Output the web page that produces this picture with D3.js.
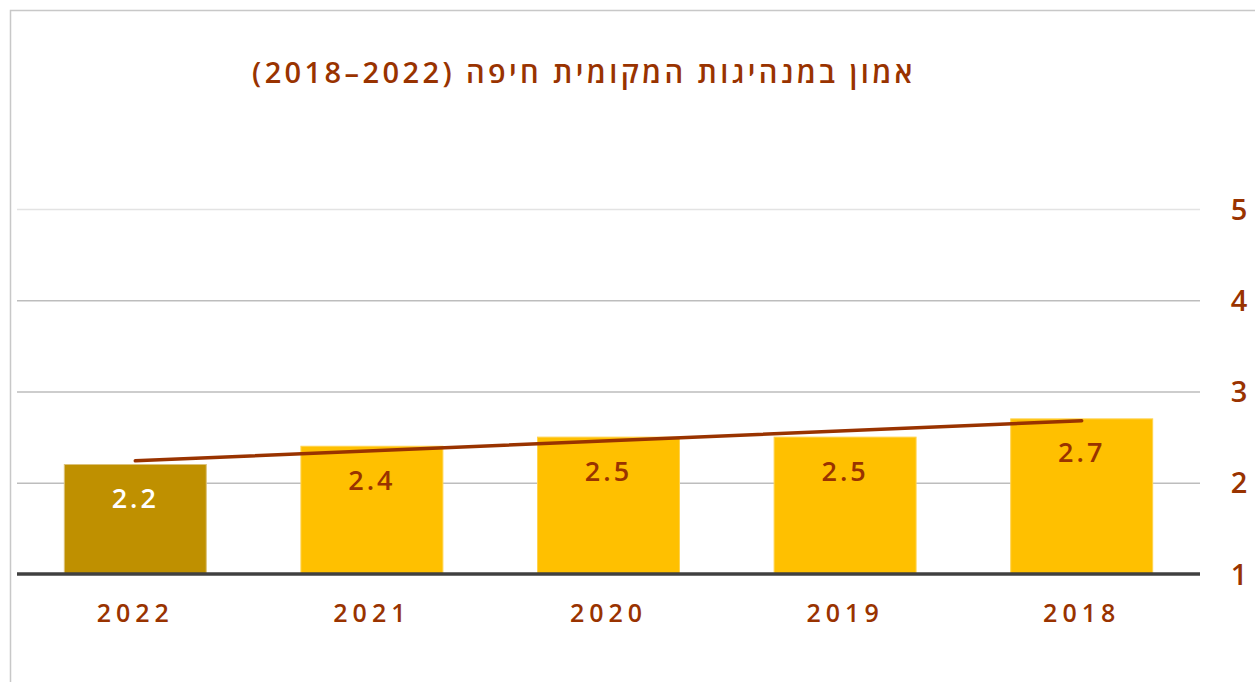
<!DOCTYPE html>
<html lang="he">
<head>
<meta charset="utf-8">
<script src="https://cdn.jsdelivr.net/npm/d3@7"></script>
<style>
  html, body { margin: 0; padding: 0; background: #fff; }
  svg { display: block; font-family: 'Open Sans', 'Noto Sans', sans-serif; }
</style>
</head>
<body>
<svg width="1255" height="682"></svg>
<script>
const years = ['2022', '2021', '2020', '2019', '2018'];
const values = [2.2, 2.4, 2.5, 2.5, 2.7];
const yTicks = [1, 2, 3, 4, 5];
// years range is isolated as LTR so it isn't flipped by the bidi algorithm
const title = 'אמון במנהיגות המקומית חיפה (\u20662018–2022\u2069)';

const svg = d3.select('svg');
const width = +svg.attr('width');
const height = +svg.attr('height');

const brown = '#993300';
const margin = { top: 209, right: 55, bottom: 108, left: 17 };
const innerWidth = width - margin.left - margin.right;
const innerHeight = height - margin.top - margin.bottom;

const xScale = d3.scaleBand().domain(years).range([0, innerWidth])
    .paddingInner(0.4).paddingOuter(0.2);
const yScale = d3.scaleLinear().domain([1, 5]).range([innerHeight, 0]);

// frame
svg.append('path')
    .attr('d', `M10.5,${height} V10.5 H${width}`)
    .attr('fill', 'none')
    .attr('stroke', '#c8c8c8')
    .attr('stroke-width', 1.5);

svg.append('text')
    .attr('x', 584)
    .attr('y', 83)
    .attr('text-anchor', 'middle')
    .attr('direction', 'rtl')
    .attr('fill', brown)
    .attr('font-size', 29)
    .attr('font-weight', 600)
    .attr('letter-spacing', 3.4)
    .text(title);

const g = svg.append('g').attr('transform', `translate(${margin.left},${margin.top})`);

// grid
g.selectAll('.grid').data(yTicks.filter(d => d > 1))
    .enter().append('line')
    .attr('x1', 0).attr('x2', innerWidth)
    .attr('y1', d => yScale(d) + 0.5).attr('y2', d => yScale(d) + 0.5)
    .attr('stroke', d => d === 5 ? '#e3e3e3' : '#bdbdbd')
    .attr('stroke-width', 1.3);

// right axis labels
const yAxis = g.append('g')
    .attr('transform', `translate(${innerWidth + 39},0)`)
    .call(d3.axisRight(yScale).tickValues(yTicks).tickFormat(d3.format('d')).tickSize(0).tickPadding(0));
yAxis.select('.domain').remove();
yAxis.selectAll('text')
    .attr('fill', brown)
    .attr('font-size', 29)
    .attr('font-weight', 600)
    .attr('font-family', "'Open Sans', sans-serif")
    .attr('text-anchor', 'middle')
    .attr('dy', '0.35em');

// bars
g.selectAll('.bar').data(values)
    .enter().append('rect')
    .attr('x', (d, i) => xScale(years[i]))
    .attr('y', d => yScale(d))
    .attr('width', xScale.bandwidth())
    .attr('height', d => yScale(1) - yScale(d))
    .attr('fill', (d, i) => i === 0 ? '#bf9000' : '#ffc000')
    .attr('stroke', (d, i) => i === 0 ? '#dcc27a' : '#ffd34d')
    .attr('stroke-width', 1);

// baseline
g.append('line')
    .attr('x1', 0).attr('x2', innerWidth)
    .attr('y1', yScale(1)).attr('y2', yScale(1))
    .attr('stroke', '#404040')
    .attr('stroke-width', 3.5);

// value labels
g.selectAll('.val').data(values)
    .enter().append('text')
    .attr('x', (d, i) => xScale(years[i]) + xScale.bandwidth() / 2)
    .attr('y', d => yScale(d) + 34)
    .attr('dy', '0.35em')
    .attr('text-anchor', 'middle')
    .attr('fill', (d, i) => i === 0 ? '#ffffff' : brown)
    .attr('font-size', 27)
    .attr('font-weight', 600)
    .attr('letter-spacing', 3)
    .text(d => d3.format('.1f')(d));

// linear trend line
const xs = values.map((d, i) => i);
const mx = d3.mean(xs), my = d3.mean(values);
const slope = d3.sum(xs, (x, i) => (x - mx) * (values[i] - my)) / d3.sum(xs, x => (x - mx) ** 2);
const icpt = my - slope * mx;
const trend = [0, years.length - 1].map(i => [xScale(years[i]) + xScale.bandwidth() / 2, yScale(icpt + slope * i)]);
g.append('path')
    .attr('d', d3.line()(trend))
    .attr('stroke', brown)
    .attr('stroke-width', 3.5)
    .attr('stroke-linecap', 'round')
    .attr('fill', 'none');

// x labels
g.append('g')
    .attr('transform', `translate(0,${innerHeight})`)
    .call(d3.axisBottom(xScale).tickSize(0).tickPadding(30))
    .call(a => a.select('.domain').remove())
    .selectAll('text')
    .attr('fill', brown)
    .attr('font-size', 25)
    .attr('font-weight', 600)
    .attr('letter-spacing', 5)
    .attr('font-family', "'Open Sans', sans-serif");
</script>
</body>
</html>
